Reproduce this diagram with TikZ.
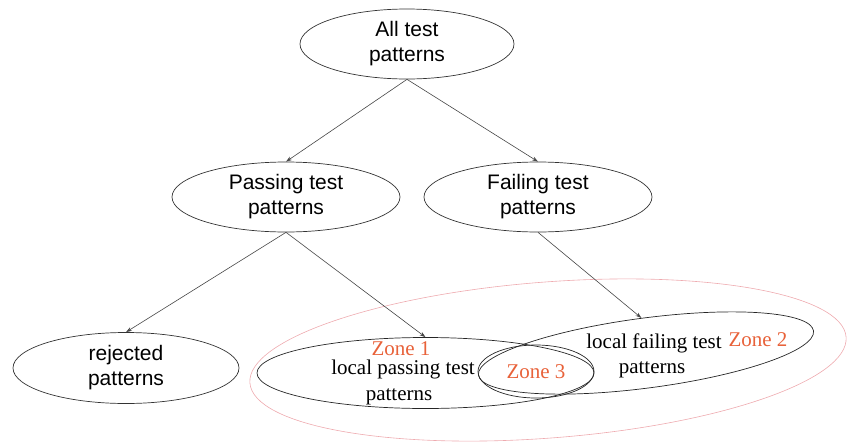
\documentclass[tikz,border=0pt]{standalone}
\usepackage{fontspec}
\setmainfont{Liberation Serif}
\newfontfamily\arialfont{Liberation Sans}
\usetikzlibrary{shapes.geometric,arrows.meta}
\definecolor{zonecol}{RGB}{232,98,58}
\definecolor{pinkline}{RGB}{238,170,175}
\definecolor{edgecol}{RGB}{70,70,70}
\begin{document}
\begin{tikzpicture}[x=1pt,y=-1pt,
  tnode/.style={draw=black!80, ellipse, inner sep=0pt, align=center,
    font=\arialfont\fontsize{21}{25}\selectfont, line width=0.7pt},
  blob/.style={draw=black!85, ellipse, inner sep=0pt, line width=0.7pt},
  txt/.style={font=\fontsize{21}{25}\selectfont, anchor=base, inner sep=0pt},
  zonetxt/.style={txt, text=zonecol},
  conn/.style={draw=edgecol, line width=0.6pt, -{Stealth[length=6pt,width=4pt]}}]
\useasboundingbox (0,0) rectangle (849,442);
% outer pink ellipse
\node[draw=pinkline, ellipse, inner sep=0pt, minimum width=598pt, minimum height=156pt,
  rotate=4.4, line width=0.6pt] (outer) at (548,360) {};
% tree nodes
\node[tnode, minimum width=214pt, minimum height=70pt] (all) at (407,44) {All test\\patterns};
\node[tnode, minimum width=228pt, minimum height=70pt] (pass) at (286,197) {Passing test\\patterns};
\node[tnode, minimum width=228pt, minimum height=70pt] (fail) at (538,197) {Failing test\\patterns};
\node[tnode, minimum width=226pt, minimum height=71pt] (rej) at (126,368) {rejected\\patterns};
% local sets
\node[blob, minimum width=337pt, minimum height=71pt] (lpass) at (425.5,373) {};
\node[blob, minimum width=338pt, minimum height=70pt, rotate=7.5] (lfail) at (646,353) {};
\node[blob, minimum width=116pt, minimum height=53pt] (z3) at (536,371.5) {};
% texts
\node[zonetxt] (zone1) at (401,355) {Zone 1};
\node[txt] (lptext1) at (403,374) {local passing test};
\node[txt] (lptext2) at (399,400) {patterns};
\node[txt] (lftext1) at (654,348) {local failing test};
\node[txt] (lftext2) at (652,373) {patterns};
\node[zonetxt] (zone2) at (758,346) {Zone 2};
\node[zonetxt] (zone3) at (536,378) {Zone 3};
% connectors
\draw[conn] (all.south) -- (pass.north);
\draw[conn] (all.south) -- (fail.north);
\draw[conn] (pass.south) -- (rej.north);
\draw[conn] (pass.south) -- (lpass.north);
\draw[conn] (fail.south) -- (lfail.north);
\end{tikzpicture}
\end{document}
